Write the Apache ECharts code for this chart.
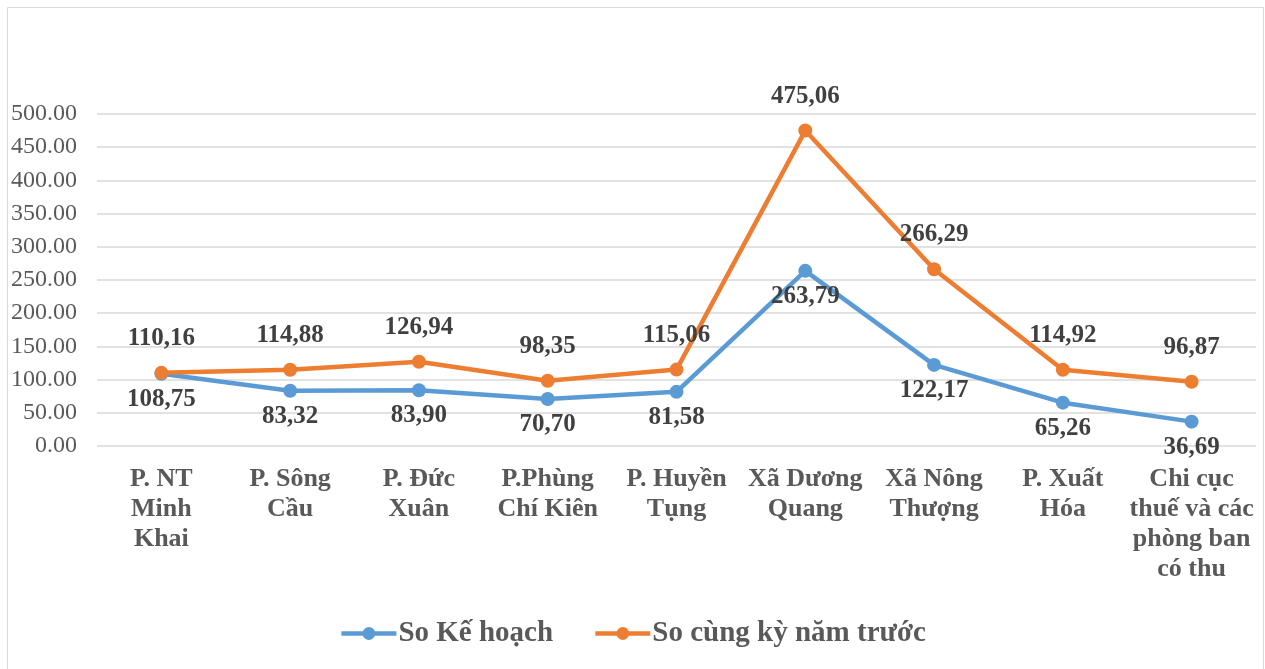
<!DOCTYPE html>
<html>
<head>
<meta charset="utf-8">
<script src="https://cdn.jsdelivr.net/npm/echarts@6/dist/echarts.min.js"></script>
<style>
html,body{margin:0;padding:0;background:#fff;}
#chart{width:1265px;height:669px;}
</style>
</head>
<body>
<div id="chart"></div>
<script>
var categories = ['P. NT\nMinh\nKhai', 'P. Sông\nCầu', 'P. Đức\nXuân', 'P.Phùng\nChí Kiên', 'P. Huyền\nTụng', 'Xã Dương\nQuang', 'Xã Nông\nThượng', 'P. Xuất\nHóa', 'Chi cục\nthuế và các\nphòng ban\ncó thu'];
var soKeHoach = [108.75, 83.32, 83.90, 70.70, 81.58, 263.79, 122.17, 65.26, 36.69];
var soCungKy = [110.16, 114.88, 126.94, 98.35, 115.06, 475.06, 266.29, 114.92, 96.87];
var seriesNames = ['So Kế hoạch', 'So cùng kỳ năm trước'];

var FONT = '"Liberation Serif", "Times New Roman", serif';
function fmt(p){ return p.value.toFixed(2).replace('.', ','); }

var chart = echarts.init(document.getElementById('chart'), null, {renderer:'canvas'});
chart.setOption({
  backgroundColor: '#ffffff',
  animation: false,
  graphic: [{
    type: 'rect',
    shape: {x: 7.5, y: 7.5, width: 1256, height: 670},
    style: {fill: 'none', stroke: '#d9d9d9', lineWidth: 1}
  }],
  grid: {left: 97, right: 9, top: 114, bottom: 223, containLabel: false},
  legend: {
    data: seriesNames,
    bottom: 16,
    left: 'center',
    itemWidth: 55,
    itemHeight: 16,
    itemGap: 40,
    lineStyle: {width: 4.5},
    textStyle: {fontFamily: FONT, fontSize: 29, fontWeight: 'bold', color: '#595959', padding: [0,0,0,-3]}
  },
  xAxis: {
    type: 'category',
    data: categories,
    boundaryGap: true,
    axisLine: {show: false},
    axisTick: {show: false},
    axisLabel: {
      interval: 0,
      margin: 18,
      fontFamily: FONT, fontSize: 26, fontWeight: 'bold', color: '#595959', lineHeight: 30
    }
  },
  yAxis: {
    type: 'value',
    min: 0, max: 500, interval: 50,
    axisLine: {show: false},
    axisTick: {show: false},
    splitLine: {lineStyle: {color: '#d9d9d9', width: 1.5}},
    axisLabel: {
      margin: 20,
      fontFamily: FONT, fontSize: 24, color: '#595959',
      formatter: function(v){ return v.toFixed(2); }
    }
  },
  series: [{
    name: seriesNames[0],
    type: 'line',
    data: soKeHoach,
    symbol: 'circle',
    symbolSize: 14,
    itemStyle: {color: '#5b9bd5'},
    lineStyle: {color: '#5b9bd5', width: 4.5},
    label: {
      show: true, position: 'bottom', distance: 6,
      formatter: fmt,
      fontFamily: FONT, fontSize: 25, fontWeight: 'bold', color: '#404040'
    },
    z: 3
  }, {
    name: seriesNames[1],
    type: 'line',
    data: soCungKy,
    symbol: 'circle',
    symbolSize: 14,
    itemStyle: {color: '#ed7d31'},
    lineStyle: {color: '#ed7d31', width: 4.5},
    label: {
      show: true, position: 'top', distance: 15,
      formatter: fmt,
      fontFamily: FONT, fontSize: 25, fontWeight: 'bold', color: '#404040'
    },
    z: 4
  }]
});
</script>
</body>
</html>
